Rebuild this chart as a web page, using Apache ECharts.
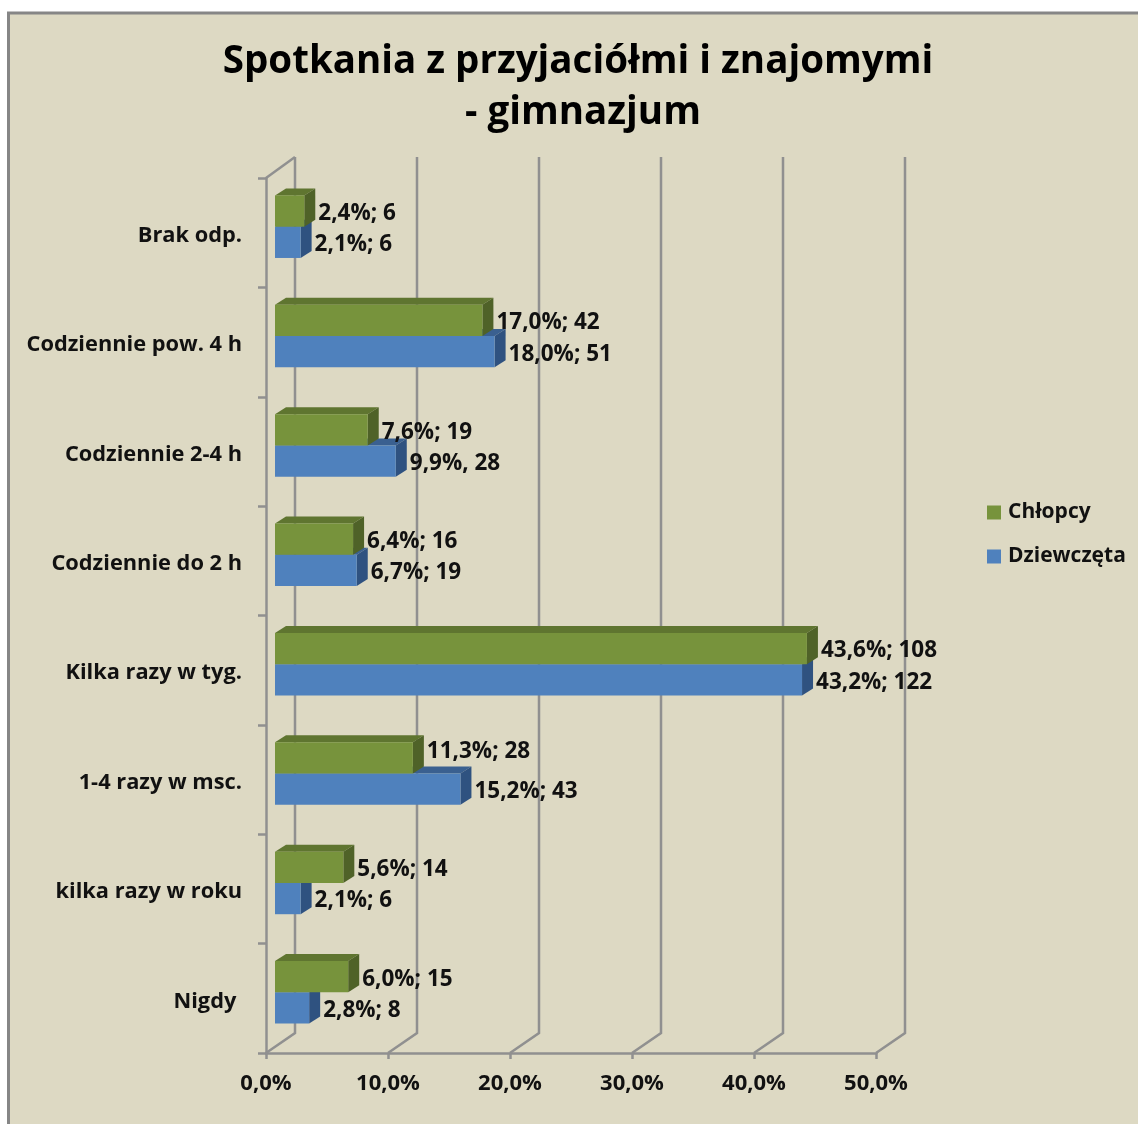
<!DOCTYPE html>
<html>
<head>
<meta charset="utf-8">
<style>html,body{margin:0;padding:0;background:#fff}#chart{width:1138px;height:1124px}</style>
<script src="https://cdn.jsdelivr.net/npm/echarts@6/dist/echarts.min.js"></script>
</head>
<body>
<div id="chart"></div>
<script>
// kategorie od dolu do gory, jak na osi
const categories = ['Nigdy ', 'kilka razy w roku', '1-4 razy w msc.', 'Kilka razy w tyg.', 'Codziennie do 2 h', 'Codziennie 2-4 h', 'Codziennie pow. 4 h', 'Brak odp.'];
const chlopcy = [6.0, 5.6, 11.3, 43.6, 6.4, 7.6, 17.0, 2.4];
const dziewczeta = [2.8, 2.1, 15.2, 43.2, 6.7, 9.9, 18.0, 2.1];
const chlopcyLabels = ['6,0%; 15', '5,6%; 14', '11,3%; 28', '43,6%; 108', '6,4%; 16', '7,6%; 19', '17,0%; 42', '2,4%; 6'];
const dziewczetaLabels = ['2,8%; 8', '2,1%; 6', '15,2%; 43', '43,2%; 122', '6,7%; 19', '9,9%, 28', '18,0%; 51', '2,1%; 6'];
const xTicks = [0, 10, 20, 30, 40, 50];

const FONT = '"Open Sans", sans-serif';
const wallDx = 29, wallDy = 20;   // glebokosc sciany 3D
const barDx = 9, barDy = 6;       // przesuniecie slupka od osi
const sideDx = 11, sideDy = 7;    // glebokosc slupka
const labelLift = {'11,3%; 28': 9}; // ta etykieta jest recznie podniesiona

let myChart = echarts.init(document.querySelector('#chart'));

function poly(points, fill) {
    return {type: 'polygon', shape: {points: points}, style: {fill: fill}};
}

// slupek 3D: przod, gora, bok i etykieta; upper = gorna polowa kategorii
function bar3d(labels, front, top, side, upper) {
    return function (params, api) {
        let start = api.coord([0, api.value(1)]);
        let end = api.coord([api.value(0), api.value(1)]);
        let h = api.size([0, 1])[1] * 0.286;
        let x0 = start[0] + barDx, x1 = end[0] + barDx;
        let yMid = start[1] - barDy;
        let y0 = upper ? yMid - h : yMid, y1 = upper ? yMid : yMid + h;
        let text = labels[params.dataIndex];
        return {
            type: 'group',
            children: [
                poly([[x0, y0], [x0 + sideDx, y0 - sideDy], [x1 + sideDx, y0 - sideDy], [x1, y0]], top),
                poly([[x1, y0], [x1 + sideDx, y0 - sideDy], [x1 + sideDx, y1 - sideDy], [x1, y1]], side),
                poly([[x0, y0], [x1, y0], [x1, y1], [x0, y1]], front),
                {
                    type: 'text',
                    style: {
                        text: text,
                        x: x1 + sideDx + 3, y: (y0 + y1) / 2 + 2.5 - (labelLift[text] || 0),
                        verticalAlign: 'middle',
                        font: 'bold 22.5px ' + FONT,
                        fill: '#111'
                    }
                }
            ]
        };
    };
}

myChart.setOption({
    animation: false,
    backgroundColor: '#fff',
    graphic: [{
        type: 'rect', z: -10, silent: true,
        shape: {x: 8.5, y: 13, width: 1140, height: 1120},
        style: {fill: '#ddd9c3', stroke: '#868686', lineWidth: 3}
    }],
    title: {
        text: 'Spotkania z przyjaciółmi i znajomymi \n- gimnazjum',
        left: 578,
        top: 32,
        textAlign: 'center',
        textStyle: {fontFamily: FONT, fontWeight: 'bold', fontSize: 38.5, lineHeight: 51, color: '#000'}
    },
    legend: {
        orient: 'vertical',
        left: 982,
        top: 497,
        itemWidth: 14,
        itemHeight: 14,
        itemGap: 23,
        icon: 'rect',
        data: ['Chłopcy', 'Dziewczęta'],
        textStyle: {fontFamily: FONT, fontWeight: 'bold', fontSize: 21, color: '#111', padding: [0, 0, 0, 2]}
    },
    grid: {left: 266, top: 178, width: 610, height: 875},
    xAxis: {
        type: 'value',
        min: 0,
        max: 50,
        interval: 10,
        splitLine: {show: false},
        axisLine: {show: true, lineStyle: {color: '#909090', width: 2.5}},
        axisTick: {show: true, length: 6, lineStyle: {color: '#909090', width: 2.5}},
        axisLabel: {
            margin: 20,
            fontFamily: FONT, fontWeight: 'bold', fontSize: 22, color: '#111',
            formatter: v => v.toFixed(1).replace('.', ',') + '%'
        }
    },
    yAxis: {
        type: 'category',
        data: categories,
        axisLine: {show: true, lineStyle: {color: '#909090', width: 2.5}},
        axisTick: {show: true, length: 8, lineStyle: {color: '#909090', width: 2.5}},
        axisLabel: {
            margin: 24,
            formatter: v => '{a|' + v + '}',
            rich: {a: {padding: [6, 0, 0, 0], fontFamily: FONT, fontWeight: 'bold', fontSize: 21.8, color: '#111'}}
        }
    },
    series: [
        {
            // sciana tylna i podloga
            name: 'siatka',
            type: 'custom',
            silent: true,
            z: 1,
            data: xTicks.map(t => [t, 0]),
            encode: {x: 0},
            renderItem: function (params, api) {
                let rect = params.coordSys;
                let p = api.coord([api.value(0), 0]);
                let bottom = rect.y + rect.height;
                let style = {stroke: '#909090', lineWidth: 2.5, fill: 'none'};
                let children = [
                    {type: 'polyline', shape: {points: [[p[0], bottom], [p[0] + wallDx, bottom - wallDy], [p[0] + wallDx, rect.y - 21]]}, style: style}
                ];
                if (params.dataIndex === 0) {
                    children.push({type: 'line', shape: {x1: p[0], y1: rect.y, x2: p[0] + wallDx, y2: rect.y - 21}, style: style});
                }
                return {type: 'group', children: children};
            }
        },
        {
            name: 'Dziewczęta',
            type: 'custom',
            z: 2,
            itemStyle: {color: '#4f81bd'},
            data: dziewczeta.map((v, i) => [v, i]),
            encode: {x: 0, y: 1},
            renderItem: bar3d(dziewczetaLabels, '#4f81bd', '#3a6090', '#2f5280', false)
        },
        {
            name: 'Chłopcy',
            type: 'custom',
            z: 3,
            itemStyle: {color: '#77933c'},
            data: chlopcy.map((v, i) => [v, i]),
            encode: {x: 0, y: 1},
            renderItem: bar3d(chlopcyLabels, '#77933c', '#5f7530', '#4f6228', true)
        }
    ]
});
</script>
</body>
</html>
